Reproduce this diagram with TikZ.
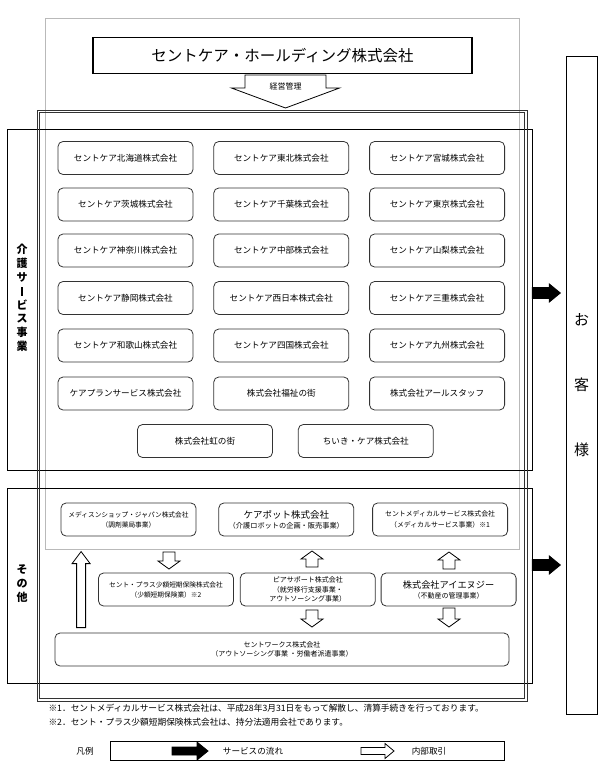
\documentclass[tikz,border=0pt]{standalone}
\usepackage{fontspec}
\setmainfont{Noto Sans CJK JP}
\usetikzlibrary{positioning,calc}

% block arrow: [style] {tail} {angle} {length} {shaft half} {head half} {head length}
\newcommand\blockarrow[7][fill=white]{%
  \draw[line width=0.8pt,#1,shift={#2},rotate=#3]
    (0,-#5) -- ({#4-#7},-#5) -- ({#4-#7},-#6) -- (#4,0)
    -- ({#4-#7},#6) -- ({#4-#7},#5) -- (0,#5) -- cycle;}

\begin{document}
\begin{tikzpicture}[x=1pt,y=-1pt,node distance=20pt,
	font=\fontsize{8.6}{10}\selectfont,
	company/.style={draw=black!80,line width=0.8pt,rounded corners=5pt,minimum width=135pt,minimum height=33pt,inner sep=1pt,align=center},
	group/.style={draw,line width=0.7pt,inner sep=0pt},
	vlabel/.style={align=center,font=\fontsize{11}{13.8}\selectfont\bfseries},
	small/.style={font=\fontsize{6.7}{10}\selectfont}]
	\useasboundingbox (0,0) rectangle (602,780);

	% frames
	\draw[gray!55,line width=0.8pt] (45,18) rectangle (519,549);
	\node[group,minimum width=525pt,minimum height=341pt] (kaigo) at (269.5,299.5) {};
	\node[group,minimum width=525pt,minimum height=195pt] (sonota) at (269.5,585.5) {};
	\draw[black!80,line width=0.8pt] (37,110) rectangle (527,701);
	\draw[black!80,line width=0.8pt] (39.5,112.5) rectangle (524.5,698.5);
	\node[group,minimum width=31pt,minimum height=658pt,font=\fontsize{15}{65}\selectfont,align=center] (okyaku) at (581.5,385) {お\\客\\様};

	\node[vlabel] (kaigolbl) at (22,298) {介\\護\\サ\\\rule[-0.5pt]{1.4pt}{9pt}\\ビ\\ス\\事\\業};
	\node[vlabel,font=\fontsize{11}{14}\selectfont\bfseries] (sonotalbl) at (22,584) {そ\\の\\他};

	% holding
	\node[draw,line width=1.3pt,minimum width=379pt,minimum height=36pt,font=\fontsize{15.5}{18}\selectfont] (hd) at (282.5,55.5) {セントケア・ホールディング株式会社};
	\blockarrow{(285.5,75)}{-90}{33}{40.5}{54}{20}
	\node[font=\fontsize{8}{10}\selectfont] (keiei) at (285.5,86) {経営管理};

	% care services
	\node[company] (k11) at (125.5,158) {セントケア北海道株式会社};
	\node[company,right=of k11] (k12) {セントケア東北株式会社};
	\node[company,right=of k12] (k13) {セントケア宮城株式会社};
	\node[company] (k21) at (125.5,204.5) {セントケア茨城株式会社};
	\node[company,right=of k21] (k22) {セントケア千葉株式会社};
	\node[company,right=of k22] (k23) {セントケア東京株式会社};
	\node[company] (k31) at (125.5,250.5) {セントケア神奈川株式会社};
	\node[company,right=of k31] (k32) {セントケア中部株式会社};
	\node[company,right=of k32] (k33) {セントケア山梨株式会社};
	\node[company] (k41) at (125.5,298) {セントケア静岡株式会社};
	\node[company,right=of k41] (k42) {セントケア西日本株式会社};
	\node[company,right=of k42] (k43) {セントケア三重株式会社};
	\node[company] (k51) at (125.5,345.5) {セントケア和歌山株式会社};
	\node[company,right=of k51] (k52) {セントケア四国株式会社};
	\node[company,right=of k52] (k53) {セントケア九州株式会社};
	\node[company] (k61) at (125.5,393.5) {ケアプランサービス株式会社};
	\node[company,right=of k61] (k62) {株式会社福祉の街};
	\node[company,right=of k62] (k63) {株式会社アールスタッフ};
	\node[company] (k71) at (205,441) {株式会社虹の街};
	\node[company,right=25pt of k71] (k72) {ちいき・ケア株式会社};

	% others
	\node[company,small] (medi) at (128.5,519.5) {メディスンショップ・ジャパン株式会社\\（調剤薬局事業）};
	\node[company,right=22pt of medi] (carepot) {{\fontsize{9.5}{10}\selectfont ケアポット株式会社}\\{\fontsize{7.2}{10}\selectfont （介護ロボットの企画・販売事業）}};
	\node[company,small,font=\fontsize{6.9}{11}\selectfont,right=18pt of carepot] (smedi) {セントメディカルサービス株式会社\\（メディカルサービス事業）※1};
	\node[company,small] (splus) at (166,589.5) {セント・プラス少額短期保険株式会社\\（少額短期保険業）※2};
	\node[company,font=\fontsize{7}{9.5}\selectfont,right=6pt of splus] (peer) {ピアサポート株式会社\\（就労移行支援事業・\\アウトソーシング事業）};
	\node[company,right=5pt of peer] (ing) {{\fontsize{9.2}{11}\selectfont 株式会社アイエヌジー}\\{\fontsize{7}{11}\selectfont （不動産の管理事業）}};
	\node[company,font=\fontsize{7}{9.5}\selectfont,minimum width=454pt] (works) at (282,649.5) {セントワークス株式会社\\（アウトソーシング事業 ・労働者派遣事業）};

	% internal transactions
	\blockarrow{($(works.north west)+(26.5,-5)$)}{90}{76}{4.5}{9}{12}
	\blockarrow{(169,552)}{-90}{17}{6}{11}{8}
	\blockarrow{(312,567)}{90}{16}{6}{11}{8}
	\blockarrow{(449,569)}{90}{17}{6}{11}{8}
	\blockarrow{(312,610)}{-90}{17}{6}{11}{8}
	\blockarrow{(449,608)}{-90}{19}{6}{11}{8}

	% service flow
	\blockarrow[fill=black]{($(kaigo.east)+(0,-6.5)$)}{0}{28}{5.5}{9}{11}
	\blockarrow[fill=black]{($(sonota.east)+(0,-20.5)$)}{0}{28}{5.5}{9}{11}

	% notes
	\node[anchor=west,font=\fontsize{8.7}{10}\selectfont] (note1) at (45,708) {※1．セントメディカルサービス株式会社は、平成28年3月31日をもって解散し、清算手続きを行っております。};
	\node[anchor=west,font=\fontsize{8.7}{10}\selectfont] (note2) at (45,722) {※2．セント・プラス少額短期保険株式会社は、持分法適用会社であります。};

	% legend
	\node[draw,line width=0.8pt,minimum width=394pt,minimum height=19pt] (legend) at (307,750.5) {};
	\node (lgname) at (85,751) {凡例};
	\blockarrow[fill=black]{(172,751)}{0}{36}{4}{9}{11}
	\node (lgflow) at (253,751) {サービスの流れ};
	\blockarrow{(361,751)}{0}{33}{3.5}{7.5}{9}
	\node (lgint) at (429,751) {内部取引};
\end{tikzpicture}
\end{document}
